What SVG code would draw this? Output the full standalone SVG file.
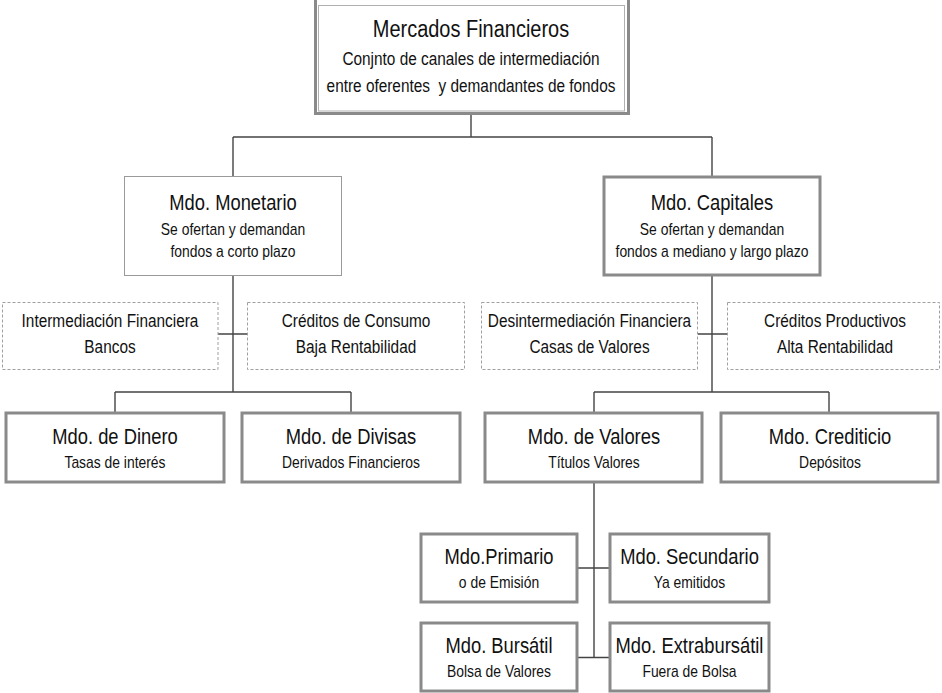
<svg xmlns="http://www.w3.org/2000/svg" width="942" height="693" viewBox="0 0 942 693">
<style>
  text { font-family: "Liberation Sans", Arial, sans-serif; fill: #111; text-anchor: middle; }
  .t0 { font-size: 23.5px; }
  .t { font-size: 21.6px; }
  .s { font-size: 16.35px; }
  .d { font-size: 18.1px; }
  .thick { fill: #fff; stroke: #8a8a8a; stroke-width: 3; }
  .thin { fill: #fff; stroke: #9a9a9a; stroke-width: 1; }
  .inner { fill: none; stroke: #b0b0b0; stroke-width: 1; }
  .dash { fill: #fff; stroke: #a0a0a0; stroke-width: 1; stroke-dasharray: 3 2; }
  .conn { fill: none; stroke: #444; stroke-width: 1.4; }
</style>
<rect width="942" height="693" fill="#fff"/>
<g id="connectors">
  <path class="conn" d="M471 114 V137 M233 137 H712 M233 137 V176 M712 137 V176"/>
  <path class="conn" d="M233 276 V392 M218 334 H247 M115 392 H351 M115 392 V412 M351 392 V412"/>
  <path class="conn" d="M712 276 V392 M698 334 H727 M594 392 H829 M594 392 V412 M829 392 V412"/>
  <path class="conn" d="M594 483 V657.5 M578 568 H609 M578 657.5 H609"/>
</g>
<g id="mercados">
  <rect class="thick" x="315.5" y="-5" width="313" height="118.5"/>
  <rect class="inner" x="318.5" y="5.5" width="306" height="105.5"/>
  <g transform="scale(0.85 1)">
    <text class="t0" x="554.12" y="37">Mercados Financieros</text>
    <text class="d" x="554.12" y="65">Conjnto de canales de intermediación</text>
    <text class="d" x="554.12" y="92" xml:space="preserve">entre oferentes  y demandantes de fondos</text>
  </g>
</g>
<g id="monetario">
  <rect class="thin" x="124.5" y="176.5" width="217" height="99"/>
  <g transform="scale(0.85 1)">
    <text class="t" x="274.12" y="210">Mdo. Monetario</text>
    <text class="s" x="274.12" y="235.5">Se ofertan y demandan</text>
    <text class="s" x="274.12" y="257.5">fondos a corto plazo</text>
  </g>
</g>
<g id="capitales">
  <rect class="thick" x="604" y="177" width="216" height="98"/>
  <g transform="scale(0.85 1)">
    <text class="t" x="837.65" y="210">Mdo. Capitales</text>
    <text class="s" x="837.65" y="235.5">Se ofertan y demandan</text>
    <text class="s" x="837.65" y="257.5">fondos a mediano y largo plazo</text>
  </g>
</g>
<g id="intermediacion">
  <rect class="dash" x="2.5" y="302.5" width="215.5" height="67"/>
  <g transform="scale(0.85 1)">
    <text class="d" x="129.41" y="327">Intermediación Financiera</text>
    <text class="d" x="129.41" y="353">Bancos</text>
  </g>
</g>
<g id="consumo">
  <rect class="dash" x="247.5" y="302.5" width="217" height="67"/>
  <g transform="scale(0.85 1)">
    <text class="d" x="418.82" y="327">Créditos de Consumo</text>
    <text class="d" x="418.82" y="353">Baja Rentabilidad</text>
  </g>
</g>
<g id="desintermediacion">
  <rect class="dash" x="481.5" y="302.5" width="216" height="67"/>
  <g transform="scale(0.85 1)">
    <text class="d" x="693.53" y="327">Desintermediación Financiera</text>
    <text class="d" x="693.53" y="353">Casas de Valores</text>
  </g>
</g>
<g id="productivos">
  <rect class="dash" x="727.5" y="302.5" width="212" height="67"/>
  <g transform="scale(0.85 1)">
    <text class="d" x="982.35" y="327">Créditos Productivos</text>
    <text class="d" x="982.35" y="353">Alta Rentabilidad</text>
  </g>
</g>
<g id="dinero">
  <rect class="thick" x="6" y="413" width="218" height="69"/>
  <g transform="scale(0.85 1)">
    <text class="t" x="135.29" y="444">Mdo. de Dinero</text>
    <text class="s" x="135.29" y="468">Tasas de interés</text>
  </g>
</g>
<g id="divisas">
  <rect class="thick" x="242" y="413" width="218" height="69"/>
  <g transform="scale(0.85 1)">
    <text class="t" x="412.94" y="444">Mdo. de Divisas</text>
    <text class="s" x="412.94" y="468">Derivados Financieros</text>
  </g>
</g>
<g id="valores">
  <rect class="thick" x="485" y="413" width="217" height="69"/>
  <g transform="scale(0.85 1)">
    <text class="t" x="698.82" y="444">Mdo. de Valores</text>
    <text class="s" x="698.82" y="468">Títulos Valores</text>
  </g>
</g>
<g id="crediticio">
  <rect class="thick" x="721" y="413" width="217" height="69"/>
  <g transform="scale(0.85 1)">
    <text class="t" x="976.47" y="444">Mdo. Crediticio</text>
    <text class="s" x="976.47" y="468">Depósitos</text>
  </g>
</g>
<g id="primario">
  <rect class="thick" x="421" y="534" width="156" height="68"/>
  <g transform="scale(0.85 1)">
    <text class="t" x="587.06" y="564">Mdo.Primario</text>
    <text class="s" x="587.06" y="588">o de Emisión</text>
  </g>
</g>
<g id="secundario">
  <rect class="thick" x="610" y="534" width="159" height="68"/>
  <g transform="scale(0.85 1)">
    <text class="t" x="811.18" y="564">Mdo. Secundario</text>
    <text class="s" x="811.18" y="588">Ya emitidos</text>
  </g>
</g>
<g id="bursatil">
  <rect class="thick" x="421" y="623" width="156" height="68"/>
  <g transform="scale(0.85 1)">
    <text class="t" x="587.06" y="653">Mdo. Bursátil</text>
    <text class="s" x="587.06" y="677">Bolsa de Valores</text>
  </g>
</g>
<g id="extrabursatil">
  <rect class="thick" x="610" y="623" width="159" height="68"/>
  <g transform="scale(0.85 1)">
    <text class="t" x="811.18" y="653">Mdo. Extrabursátil</text>
    <text class="s" x="811.18" y="677">Fuera de Bolsa</text>
  </g>
</g>
</svg>
